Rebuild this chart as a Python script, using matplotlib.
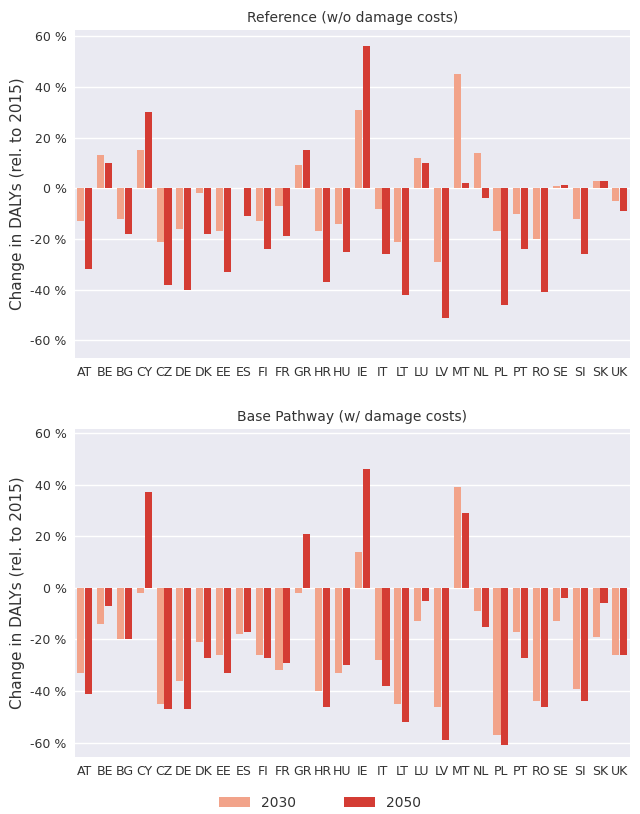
import numpy as np
import matplotlib
matplotlib.use("Agg")
import matplotlib.pyplot as plt
from matplotlib.patches import Patch

countries = ["AT", "BE", "BG", "CY", "CZ", "DE", "DK", "EE", "ES", "FI", "FR", "GR", "HR", "HU",
             "IE", "IT", "LT", "LU", "LV", "MT", "NL", "PL", "PT", "RO", "SE", "SI", "SK", "UK"]

ref_2030 = [-13, 13, -12, 15, -21, -16, -2, -17, 0, -13, -7, 9, -17, -14,
            31, -8, -21, 12, -29, 45, 14, -17, -10, -20, 1, -12, 3, -5]
ref_2050 = [-32, 10, -18, 30, -38, -40, -18, -33, -11, -24, -19, 15, -37, -25,
            56, -26, -42, 10, -51, 2, -4, -46, -24, -41, 1.5, -26, 3, -9]

base_2030 = [-33, -14, -20, -2, -45, -36, -21, -26, -18, -26, -32, -2, -40, -33,
             14, -28, -45, -13, -46, 39, -9, -57, -17, -44, -13, -39, -19, -26]
base_2050 = [-41, -7, -20, 37, -47, -47, -27, -33, -17, -27, -29, 21, -46, -30,
             46, -38, -52, -5, -59, 29, -15, -61, -27, -46, -4, -44, -6, -26]

titles = ["Reference (w/o damage costs)", "Base Pathway (w/ damage costs)"]
years = ["2030", "2050"]
colors = ["#f2a38a", "#d43c34"]
ylabel = "Change in DALYs (rel. to 2015)"
yticks = [-60, -40, -20, 0, 20, 40, 60]

txt = "#333333"
fig = plt.figure(figsize=(6.4, 8.14), dpi=100)
axes = [fig.add_axes([0.117, 0.560, 0.867, 0.403]),
        fig.add_axes([0.117, 0.070, 0.867, 0.403])]
datasets = [(ref_2030, ref_2050), (base_2030, base_2050)]
ylims = [(-67, 62.4), (-65.5, 61.5)]

x = np.arange(len(countries))
w = 0.36
for ax, (d30, d50), title, yl in zip(axes, datasets, titles, ylims):
    ax.set_facecolor("#eaeaf2")
    ax.set_axisbelow(True)
    ax.grid(axis="y", color="white", linewidth=1.0)
    ax.bar(x - 0.2, d30, width=w, color=colors[0])
    ax.bar(x + 0.2, d50, width=w, color=colors[1])
    ax.set_xlim(-0.5, len(countries) - 0.5)
    ax.set_ylim(*yl)
    ax.set_yticks(yticks)
    ax.set_yticklabels([f"{v} %" for v in yticks], fontsize=9, color=txt)
    ax.set_xticks(x)
    ax.set_xticklabels(countries, fontsize=9, color=txt)
    ax.tick_params(length=0, pad=6)
    for s in ax.spines.values():
        s.set_visible(False)
    ax.set_ylabel(ylabel, fontsize=11, color=txt)
    ax.set_title(title, fontsize=10, color=txt, pad=6)

handles = [Patch(facecolor=c) for c in colors]
fig.legend(handles, years, loc="center", bbox_to_anchor=(0.5, 0.014), ncol=2,
           frameon=False, fontsize=10, handlelength=2.2, columnspacing=3.5,
           labelcolor=txt)

fig.savefig("out.png", dpi=100)
